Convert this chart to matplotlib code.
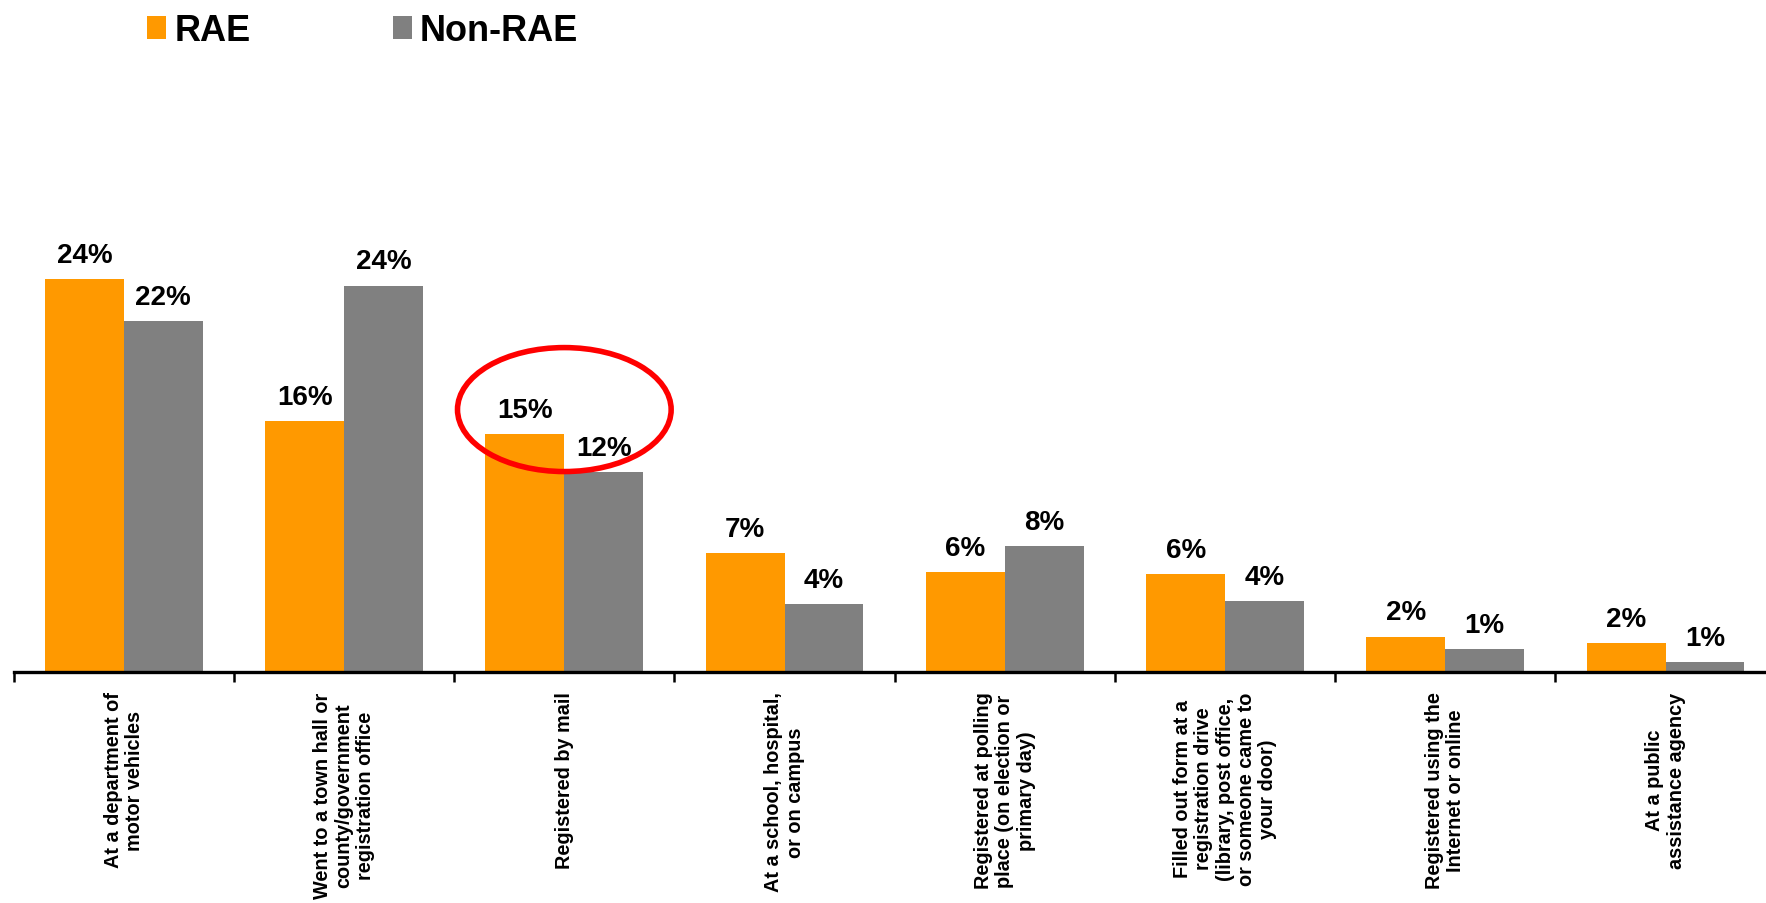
import matplotlib
matplotlib.use("Agg")
import matplotlib.pyplot as plt
from matplotlib.patches import Ellipse, Patch
import numpy as np

categories = [
    "At a department of\nmotor vehicles",
    "Went to a town hall or\ncounty/government\nregistration office",
    "Registered by mail",
    "At a school, hospital,\nor on campus",
    "Registered at polling\nplace (on election or\nprimary day)",
    "Filled out form at a\nregistration drive\n(library, post office,\nor someone came to\nyour door)",
    "Registered using the\nInternet or online",
    "At a public\nassistance agency",
]
rae = [24.4, 15.6, 14.8, 7.4, 6.2, 6.1, 2.2, 1.8]
non_rae = [21.8, 24.0, 12.4, 4.2, 7.8, 4.4, 1.4, 0.6]
series_names = ["RAE", "Non-RAE"]

ORANGE = "#FF9900"
GRAY = "#808080"
NARROW = ["Liberation Sans Narrow", "Liberation Sans", "DejaVu Sans"]
WIDE = ["Liberation Sans", "DejaVu Sans"]

W, H = 1766, 904
fig = plt.figure(figsize=(W / 100, H / 100), dpi=100)
ax = fig.add_axes([13.7 / W, 231 / H, 1762 / W, 483 / H])

x = np.arange(len(categories))
bw = 0.358
b1 = ax.bar(x - bw / 2, rae, bw, color=ORANGE, linewidth=0)
b2 = ax.bar(x + bw / 2, non_rae, bw, color=GRAY, linewidth=0)

for bars, vals in ((b1, rae), (b2, non_rae)):
    for rect, v in zip(bars, vals):
        ax.annotate(f"{v:.0f}%", (rect.get_x() + rect.get_width() / 2, v),
                    xytext=(0, 8), textcoords="offset points",
                    ha="center", va="bottom", fontsize=20, fontweight="bold",
                    family=NARROW, color="black")

ax.set_xlim(-0.5, len(categories) - 0.5)
ax.set_ylim(0, 30)
for s in ("top", "right", "left"):
    ax.spines[s].set_visible(False)
ax.spines["bottom"].set_linewidth(2.4)
ax.spines["bottom"].set_color("black")
ax.set_yticks([])

ax.set_xticks(x)
ax.set_xticklabels(categories, rotation=90, fontsize=14.3, fontweight="bold",
                   family=WIDE, ha="center", va="top", multialignment="center",
                   linespacing=1.15)
ax.tick_params(axis="x", which="major", length=0, pad=14)
ax.set_xticks(np.arange(-0.5, len(categories) + 0.5, 1), minor=True)
ax.tick_params(axis="x", which="minor", length=7, width=1.8, color="black",
               direction="out")

# highlight around the mail registration pair
ax.add_patch(Ellipse((2.0, 16.3), 0.97, 7.7, fill=False, edgecolor="#FF0000",
                     linewidth=4, clip_on=False, zorder=5))

handles = [Patch(facecolor=ORANGE), Patch(facecolor=GRAY)]
fig.legend(handles, series_names, loc="upper left",
           bbox_to_anchor=(133 / W, 1.0), ncol=2, frameon=False,
           prop={"family": WIDE, "weight": "bold", "size": 26},
           handlelength=0.52, handleheight=0.6, handletextpad=0.22,
           columnspacing=3.95, borderaxespad=0)

fig.savefig("out.png", dpi=100)
